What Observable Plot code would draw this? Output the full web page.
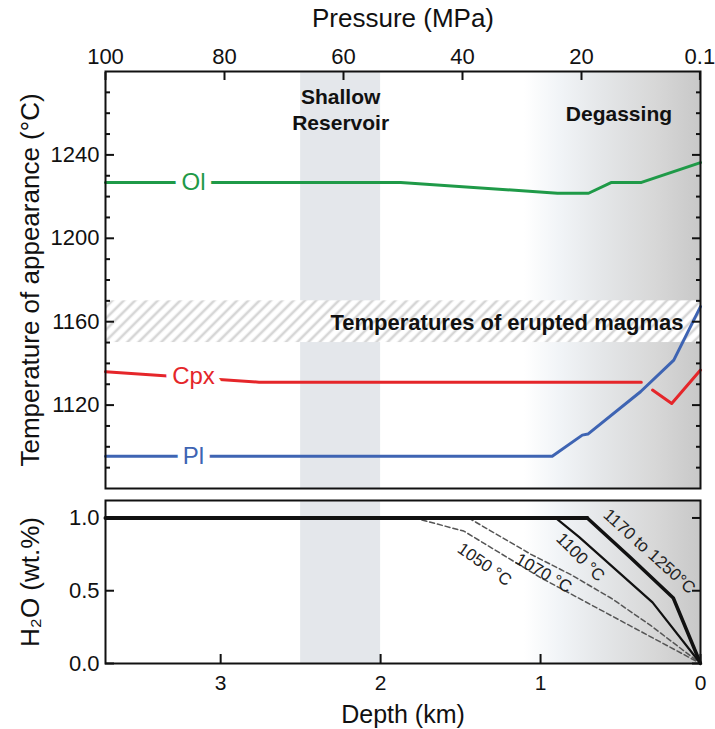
<!DOCTYPE html>
<html>
<head>
<meta charset="utf-8">
<script src="https://cdn.jsdelivr.net/npm/d3@7"></script>
<script src="https://cdn.jsdelivr.net/npm/@observablehq/plot@0.6"></script>
<style>
  body { margin: 0; background: #fff; }
  #chart { width: 715px; height: 729px; overflow: hidden; position: relative; }
  #chart svg { display: block; }
</style>
</head>
<body>
<svg width="0" height="0" style="position:absolute">
  <defs>
    <linearGradient id="degas" x1="0" x2="1" y1="0" y2="0">
      <stop offset="0" stop-color="#ffffff"/>
      <stop offset="0.2" stop-color="#f1f4f7"/>
      <stop offset="0.45" stop-color="#e4e6e8"/>
      <stop offset="0.75" stop-color="#d7d7d7"/>
      <stop offset="1" stop-color="#c8c8c8"/>
    </linearGradient>
    <pattern id="hatch" patternUnits="userSpaceOnUse" width="8" height="8" patternTransform="rotate(45)">
      <rect width="8" height="8" fill="#ffffff"/>
      <line x1="4" y1="0" x2="4" y2="8" stroke="#d6d6d6" stroke-width="2.6"/>
    </pattern>
  </defs>
</svg>
<div id="chart"></div>
<script>
// ---------- data ----------
const depthMax = 3.72;                 // km, corresponds to 100 MPa (left edge)
const pressureTicks = [100, 80, 60, 40, 20, 0.1];
const depthTicks = [3, 2, 1, 0];
const tempTicks = [1120, 1160, 1200, 1240];
const tempMinorTicks = [1090, 1100, 1110, 1130, 1140, 1150, 1170, 1180, 1190, 1210, 1220, 1230, 1250, 1260, 1270];
const h2oTicks = [0, 0.5, 1.0];

const shallowDepth = [2.0, 2.5];
const degasDepth = [1.1, 0];
const eruptedTemp = [1150, 1170];

// temperature of appearance (top panel)
const olDepth = [3.72, 1.875, 0.894, 0.70, 0.556, 0.369, 0];
const olTemp  = [1226.8, 1226.8, 1221.6, 1221.6, 1226.8, 1226.8, 1236.3];
const cpxDepth = [3.72, 2.76, 0.37];
const cpxTemp  = [1136, 1131, 1131];
const cpx2Depth = [0.30, 0.18, 0];
const cpx2Temp  = [1127.2, 1120.8, 1136.8];
const plDepth = [3.72, 0.927, 0.739, 0.704, 0.375, 0.167, 0];
const plTemp  = [1095.5, 1095.5, 1105.6, 1106.1, 1126.4, 1141.6, 1167.2];

const phaseNames = ["Ol", "Cpx", "Pl"];
const phaseColors = ["#1f9a48", "#e5262a", "#3e64b3"];
const phaseLabelDepth = [3.17, 3.17, 3.17];
const phaseLabelTemp = [1226.8, 1133.6, 1095.5];

const notes = ["Shallow\nReservoir", "Degassing", "Temperatures of erupted magmas"];
const noteDepth = [2.25, 0.51, 1.21];
const noteTemp = [1262, 1260.2, 1160];
const noteSize = [21, 21, 22];

// H2O (bottom panel)
const flatDepth = [3.72, 0.708];
const flatH2O = [1.0, 1.0];
const c1250Depth = [0.708, 0.44, 0.17, 0];
const c1250H2O   = [1.0, 0.73, 0.45, 0];
const c1100Depth = [0.906, 0.76, 0.30, 0];
const c1100H2O   = [1.0, 0.87, 0.42, 0];
const c1070Depth = [1.45, 1.06, 0.81, 0.56, 0.31, 0];
const c1070H2O   = [1.0, 0.75, 0.61, 0.45, 0.26, 0];
const c1050Depth = [1.79, 1.48, 1.0, 0.56, 0];
const c1050H2O   = [1.0, 0.91, 0.59, 0.33, 0];

const curveLabels = ["1170 to 1250°C", "1100 °C", "1070 °C", "1050 °C"];
const curveLabelDepth = [0.32, 0.75, 0.98, 1.35];
const curveLabelH2O = [0.77, 0.73, 0.62, 0.68];
const curveLabelAngle = [42, 45, 30, 35];

// ---------- helpers ----------
const FONT = "'Liberation Sans', Arial, Helvetica, sans-serif";
const pts = (xs, ys) => xs.map((x, i) => ({x, y: ys[i]}));
const idx = (arr) => arr.map((_, i) => i);

// ---------- top panel ----------
const topPlot = Plot.plot({
  width: 715, height: 492,
  marginLeft: 105, marginRight: 15, marginTop: 71, marginBottom: 4,
  style: {fontFamily: FONT, fontSize: "22px", color: "#111", background: "white", overflow: "visible"},
  x: {domain: [depthMax, 0]},
  y: {domain: [1080, 1280]},
  marks: [
    Plot.rect([shallowDepth], {x1: d => d[0], x2: d => d[1], fill: "#e4e7eb"}),
    Plot.rect([degasDepth], {x1: d => d[0], x2: d => d[1], fill: "url(#degas)"}),
    Plot.rect([eruptedTemp], {y1: d => d[0], y2: d => d[1], fill: "url(#hatch)"}),
    Plot.line(pts(olDepth, olTemp), {x: "x", y: "y", stroke: phaseColors[0], strokeWidth: 3}),
    Plot.line(pts(cpxDepth, cpxTemp), {x: "x", y: "y", stroke: phaseColors[1], strokeWidth: 3}),
    Plot.line(pts(cpx2Depth, cpx2Temp), {x: "x", y: "y", stroke: phaseColors[1], strokeWidth: 3}),
    Plot.line(pts(plDepth, plTemp), {x: "x", y: "y", stroke: phaseColors[2], strokeWidth: 3}),
    Plot.text(idx(phaseNames), {
      x: i => phaseLabelDepth[i], y: i => phaseLabelTemp[i], text: i => phaseNames[i],
      fill: i => phaseColors[i], stroke: "white", strokeWidth: 14, paintOrder: "stroke",
      fontSize: 24, fontFamily: FONT
    }),
    Plot.text(idx(notes), {
      x: i => noteDepth[i], y: i => noteTemp[i], text: i => notes[i],
      fontWeight: "bold", fontSize: i => noteSize[i], lineHeight: 1.2, fill: "#111", fontFamily: FONT
    }),
    Plot.axisY(tempTicks, {anchor: "left", tickSize: -9, tickPadding: 15, label: null, strokeWidth: 2, fontSize: 22, tickFormat: d3.format("d")}),
    Plot.axisY(tempMinorTicks, {anchor: "left", tickSize: -5, tickFormat: () => "", label: null, strokeWidth: 2}),
    Plot.axisY(tempTicks, {anchor: "right", tickSize: -9, tickFormat: () => "", label: null, strokeWidth: 2}),
    Plot.axisY(tempMinorTicks, {anchor: "right", tickSize: -5, tickFormat: () => "", label: null, strokeWidth: 2}),
    Plot.axisX(pressureTicks.map(p => p / 100 * depthMax), {
      anchor: "top", tickSize: -8, tickPadding: 16, label: null, strokeWidth: 2, fontSize: 22,
      tickFormat: d => { const p = Math.round(d / depthMax * 1000) / 10; return String(p); }
    }),
    Plot.frame({stroke: "#111", strokeWidth: 2}),
    Plot.text(["Pressure (MPa)"], {frameAnchor: "top", dy: -63, fontSize: 26, fill: "#111", fontFamily: FONT}),
    Plot.text(["Temperature of appearance (°C)"], {frameAnchor: "left", dx: -75, rotate: -90, textAnchor: "middle", lineAnchor: "middle", fontSize: 26, fill: "#111", fontFamily: FONT})
  ]
});

// ---------- bottom panel ----------
const bottomPlot = Plot.plot({
  width: 715, height: 237,
  marginLeft: 105, marginRight: 15, marginTop: 8, marginBottom: 66,
  style: {fontFamily: FONT, fontSize: "22px", color: "#111", background: "white", overflow: "visible"},
  x: {domain: [depthMax, 0]},
  y: {domain: [0, 1.12]},
  marks: [
    Plot.rect([shallowDepth], {x1: d => d[0], x2: d => d[1], fill: "#e4e7eb"}),
    Plot.rect([degasDepth], {x1: d => d[0], x2: d => d[1], fill: "url(#degas)"}),
    Plot.line(pts(c1050Depth, c1050H2O), {x: "x", y: "y", stroke: "#555", strokeWidth: 1.5, strokeDasharray: "5,3"}),
    Plot.line(pts(c1070Depth, c1070H2O), {x: "x", y: "y", stroke: "#555", strokeWidth: 1.5, strokeDasharray: "5,3"}),
    Plot.line(pts(c1100Depth, c1100H2O), {x: "x", y: "y", stroke: "#111", strokeWidth: 2.2}),
    Plot.line(pts(c1250Depth, c1250H2O), {x: "x", y: "y", stroke: "#111", strokeWidth: 3.5}),
    Plot.line(pts(flatDepth, flatH2O), {x: "x", y: "y", stroke: "#111", strokeWidth: 4}),
    Plot.text(idx(curveLabels), {
      x: i => curveLabelDepth[i], y: i => curveLabelH2O[i], text: i => curveLabels[i],
      rotate: i => curveLabelAngle[i], fontSize: 17, fill: "#222", fontFamily: FONT
    }),
    Plot.axisY(h2oTicks, {anchor: "left", tickSize: -9, tickPadding: 15, label: null, strokeWidth: 2, fontSize: 22, tickFormat: d3.format(".1f")}),
    Plot.axisY(h2oTicks, {anchor: "right", tickSize: -9, tickFormat: () => "", label: null, strokeWidth: 2}),
    Plot.axisX(depthTicks, {anchor: "bottom", tickSize: -9, tickPadding: 21, label: null, strokeWidth: 2, fontSize: 21, tickFormat: d3.format("d")}),
    Plot.frame({stroke: "#111", strokeWidth: 2}),
    Plot.text(["Depth (km)"], {frameAnchor: "bottom", dy: 59, fontSize: 25, fill: "#111", fontFamily: FONT}),
    Plot.text(["H₂O (wt.%)"], {frameAnchor: "left", dx: -75, rotate: -90, textAnchor: "middle", lineAnchor: "middle", fontSize: 26, fill: "#111", fontFamily: FONT})
  ]
});

const chart = document.getElementById("chart");
chart.appendChild(topPlot);
chart.appendChild(bottomPlot);
</script>
</body>
</html>
